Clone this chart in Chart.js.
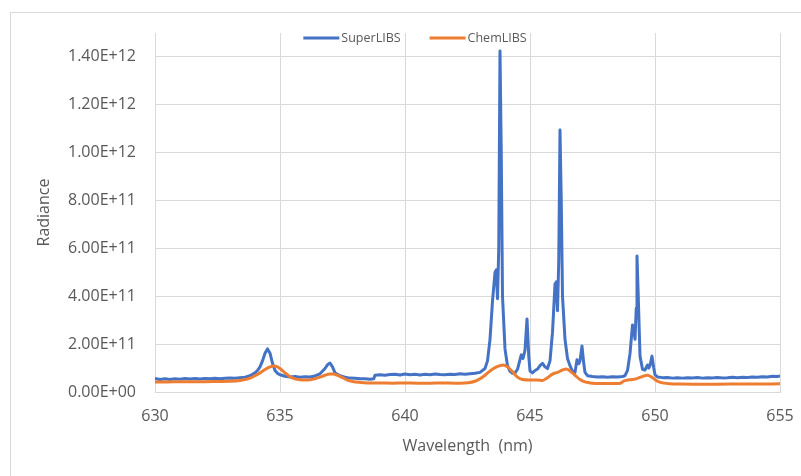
<!DOCTYPE html>
<html lang="en">
<head>
    <meta charset="UTF-8">
    <title>Radiance</title>
    <script src="https://cdn.jsdelivr.net/npm/chart.js"></script>
    <style>
        body {
            margin: 0;
            background: #fff;
        }
        .wrap {
            position: relative;
            width: 801px;
            height: 476px;
            overflow: hidden;
        }
        .frame {
            position: absolute;
            left: 10px;
            top: 12px;
            width: 900px;
            height: 600px;
            border-left: 1px solid #d9d9d9;
            border-top: 1px solid #d9d9d9;
        }
        canvas {
            position: absolute;
            left: 0;
            top: 0;
        }
    </style>
</head>
<body>
    <div class="wrap">
        <div class="frame"></div>
        <canvas id="chart" width="801" height="476"></canvas>
    </div>

    <script>
        // Wavelength (nm) and radiance in units of 1E+11
        const superWl = [
            630.0, 630.2, 630.4, 630.6, 630.8, 631.0, 631.2, 631.4, 631.6, 631.8,
            632.0, 632.2, 632.4, 632.6, 632.8, 633.0, 633.2, 633.4, 633.6, 633.8,
            634.0, 634.1, 634.2, 634.3, 634.4, 634.5, 634.6, 634.7, 634.8, 634.9,
            635.0, 635.2, 635.4, 635.6, 635.8, 636.0, 636.2, 636.4, 636.6, 636.8,
            636.9, 637.0, 637.1, 637.2, 637.4, 637.6, 637.8, 638.0, 638.2, 638.4,
            638.6, 638.75, 638.8, 639.0, 639.2, 639.4, 639.6, 639.8, 640.0, 640.2,
            640.4, 640.6, 640.8, 641.0, 641.2, 641.4, 641.6, 641.8, 642.0, 642.2,
            642.4, 642.6, 642.8, 643.0, 643.2, 643.3, 643.4, 643.5, 643.6, 643.65,
            643.7, 643.75, 643.8, 643.85, 643.9, 644.0, 644.1, 644.2, 644.3, 644.4,
            644.5, 644.6, 644.65, 644.72, 644.8, 644.88, 644.95, 645.0, 645.1, 645.2,
            645.3, 645.4, 645.5, 645.6, 645.7, 645.8, 645.9, 646.0, 646.05, 646.1,
            646.15, 646.2, 646.25, 646.3, 646.4, 646.5, 646.6, 646.7, 646.8, 646.88,
            646.95, 647.0, 647.08, 647.15, 647.2, 647.3, 647.5, 647.7, 647.9, 648.1,
            648.3, 648.5, 648.7, 648.8, 648.9, 649.0, 649.1, 649.15, 649.2, 649.25,
            649.28, 649.33, 649.4, 649.5, 649.6, 649.7, 649.75, 649.8, 649.88, 649.95,
            650.0, 650.1, 650.3, 650.5, 650.7, 650.9, 651.1, 651.3, 651.5, 651.7,
            651.9, 652.1, 652.3, 652.5, 652.7, 652.9, 653.1, 653.3, 653.5, 653.7,
            653.9, 654.1, 654.3, 654.5, 654.7, 654.9, 655.0
        ];
        const superLIBS = [
            0.56, 0.52, 0.55, 0.52, 0.55, 0.53, 0.56, 0.54, 0.56, 0.54,
            0.56, 0.55, 0.57, 0.55, 0.57, 0.58, 0.57, 0.60, 0.62, 0.68,
            0.80, 0.90, 1.05, 1.30, 1.62, 1.80, 1.62, 1.20, 0.90, 0.78,
            0.72, 0.66, 0.63, 0.65, 0.62, 0.64, 0.63, 0.67, 0.76, 0.98,
            1.14, 1.21, 1.05, 0.80, 0.68, 0.62, 0.58, 0.57, 0.55, 0.55,
            0.53, 0.55, 0.70, 0.72, 0.70, 0.73, 0.74, 0.71, 0.75, 0.72,
            0.74, 0.71, 0.74, 0.72, 0.75, 0.73, 0.72, 0.74, 0.73, 0.76,
            0.74, 0.76, 0.78, 0.82, 0.98, 1.30, 2.20, 3.80, 5.00, 5.10,
            3.90, 6.00, 14.25, 10.0, 4.00, 1.80, 1.10, 0.86, 0.78, 0.80,
            0.95, 1.35, 1.55, 1.40, 1.75, 3.05, 1.50, 0.88, 0.80, 0.90,
            0.96, 1.10, 1.20, 1.05, 0.98, 1.30, 2.50, 4.50, 4.60, 3.40,
            5.50, 10.95, 8.00, 4.00, 2.20, 1.40, 1.10, 0.86, 0.82, 1.35,
            1.18, 1.30, 1.92, 1.20, 0.82, 0.68, 0.65, 0.63, 0.64, 0.62,
            0.64, 0.63, 0.65, 0.68, 0.90, 1.60, 2.80, 2.70, 2.20, 3.50,
            5.68, 4.00, 1.50, 0.95, 0.92, 1.13, 1.00, 1.10, 1.50, 1.00,
            0.72, 0.63, 0.60, 0.61, 0.58, 0.60, 0.58, 0.60, 0.59, 0.61,
            0.58, 0.60, 0.59, 0.61, 0.59, 0.60, 0.62, 0.60, 0.62, 0.61,
            0.63, 0.62, 0.64, 0.63, 0.66, 0.65, 0.67
        ];

        const chemWl = [
            630.0, 630.5, 631.0, 631.5, 632.0, 632.5, 633.0, 633.4, 633.6, 633.8,
            634.0, 634.2, 634.4, 634.6, 634.75, 634.9, 635.0, 635.2, 635.4, 635.6,
            635.8, 636.0, 636.2, 636.4, 636.6, 636.8, 637.0, 637.1, 637.3, 637.5,
            637.7, 637.9, 638.2, 638.5, 639.0, 639.5, 640.0, 640.5, 641.0, 641.5,
            642.0, 642.4, 642.6, 642.8, 643.0, 643.2, 643.4, 643.6, 643.8, 643.92,
            644.1, 644.3, 644.5, 644.7, 645.0, 645.3, 645.5, 645.7, 645.9, 646.1,
            646.3, 646.45, 646.6, 646.8, 647.0, 647.2, 647.4, 647.8, 648.2, 648.5,
            648.65, 648.75, 648.9, 649.1, 649.3, 649.5, 649.7, 649.9, 650.1, 650.3,
            650.6, 651.0, 652.0, 653.0, 654.0, 655.0
        ];
        const chemLIBS = [
            0.42, 0.42, 0.43, 0.43, 0.43, 0.44, 0.45, 0.48, 0.52, 0.58,
            0.68, 0.80, 0.94, 1.05, 1.09, 1.05, 0.98, 0.80, 0.64, 0.55,
            0.51, 0.50, 0.51, 0.55, 0.62, 0.70, 0.75, 0.75, 0.70, 0.60,
            0.50, 0.44, 0.40, 0.38, 0.38, 0.37, 0.38, 0.37, 0.37, 0.38,
            0.37, 0.38, 0.40, 0.45, 0.55, 0.70, 0.88, 1.02, 1.10, 1.13,
            1.05, 0.85, 0.62, 0.52, 0.50, 0.50, 0.48, 0.60, 0.75, 0.82,
            0.92, 0.96, 0.88, 0.70, 0.52, 0.42, 0.38, 0.35, 0.35, 0.35,
            0.38, 0.46, 0.50, 0.52, 0.57, 0.65, 0.70, 0.60, 0.45, 0.38,
            0.34, 0.33, 0.32, 0.33, 0.33, 0.34
        ];

        const xTicks = [630, 635, 640, 645, 650, 655];
        const yTicks = [0, 2e11, 4e11, 6e11, 8e11, 10e11, 12e11, 14e11];

        const toPoints = (xs, ys) => xs.map((x, i) => ({ x: x, y: ys[i] * 1e11 }));

        // Excel-style scientific format: 1.40E+12
        function sci(v) {
            if (v === 0) return '0.00E+00';
            const parts = v.toExponential(2).split('e');
            const n = parseInt(parts[1], 10);
            return parts[0] + 'E' + (n < 0 ? '-' : '+') + String(Math.abs(n)).padStart(2, '0');
        }

        const textColor = '#595959';
        const gridColor = '#d9d9d9';
        const font = "'Open Sans', 'Noto Sans', sans-serif";

        // Legend drawn inside the plot top, as in the original
        const legendInside = {
            id: 'legendInside',
            afterDraw(chart) {
                const ctx = chart.ctx;
                const items = chart.data.datasets;
                const lineLen = 36, gapText = 2, gapItem = 29;
                ctx.save();
                ctx.font = "12.5px " + font;
                let total = 0;
                items.forEach((ds, i) => {
                    total += lineLen + gapText + ctx.measureText(ds.label).width;
                    if (i < items.length - 1) total += gapItem;
                });
                let x = 415 - total / 2;
                const y = 38;
                const order = [1, 0];
                order.forEach(idx => {
                    const ds = items[idx];
                    ctx.strokeStyle = ds.borderColor;
                    ctx.lineWidth = 3;
                    ctx.beginPath();
                    ctx.moveTo(x, y);
                    ctx.lineTo(x + lineLen, y);
                    ctx.stroke();
                    x += lineLen + gapText;
                    ctx.fillStyle = textColor;
                    ctx.textBaseline = 'middle';
                    ctx.fillText(ds.label, x, y);
                    x += ctx.measureText(ds.label).width + gapItem;
                });
                ctx.restore();
            }
        };

        new Chart(document.getElementById('chart'), {
            type: 'line',
            data: {
                datasets: [
                    {
                        label: 'ChemLIBS',
                        data: toPoints(chemWl, chemLIBS),
                        borderColor: '#ED7D31',
                        borderWidth: 3,
                        pointRadius: 0,
                        cubicInterpolationMode: 'monotone',
                        tension: 0.4
                    },
                    {
                        label: 'SuperLIBS',
                        data: toPoints(superWl, superLIBS),
                        borderColor: '#4472C4',
                        borderWidth: 3,
                        pointRadius: 0,
                        tension: 0,
                        borderJoinStyle: 'round'
                    }
                ]
            },
            options: {
                responsive: false,
                animation: false,
                devicePixelRatio: 1,
                layout: { padding: { top: 33, right: 21, left: 0, bottom: 0 } },
                plugins: {
                    legend: { display: false },
                    tooltip: { enabled: false }
                },
                scales: {
                    x: {
                        type: 'linear',
                        min: 630,
                        max: 655,
                        afterBuildTicks: s => { s.ticks = xTicks.map(v => ({ value: v })); },
                        afterFit: s => {
                            s.height = 84;
                            s.paddingLeft = 0;
                            s.paddingRight = 0;
                        },
                        grid: { color: gridColor, drawTicks: false },
                        border: { color: gridColor },
                        ticks: {
                            padding: 15,
                            color: textColor,
                            font: { family: font, size: 16 }
                        },
                        title: {
                            display: true,
                            text: 'Wavelength  (nm)',
                            color: textColor,
                            font: { family: font, size: 16 },
                            padding: { top: 0, bottom: 20 }
                        }
                    },
                    y: {
                        min: 0,
                        max: 1.5e12,
                        afterBuildTicks: s => { s.ticks = yTicks.map(v => ({ value: v })); },
                        afterFit: s => { s.width = 155; },
                        grid: { color: gridColor, drawTicks: false },
                        border: { color: gridColor },
                        ticks: {
                            padding: 19,
                            color: textColor,
                            font: { family: font, size: 16 },
                            callback: v => sci(v)
                        },
                        title: {
                            display: true,
                            text: 'Radiance',
                            color: textColor,
                            font: { family: font, size: 16 },
                            padding: { top: 35, bottom: 0 }
                        }
                    }
                }
            },
            plugins: [legendInside]
        });
    </script>
</body>
</html>
